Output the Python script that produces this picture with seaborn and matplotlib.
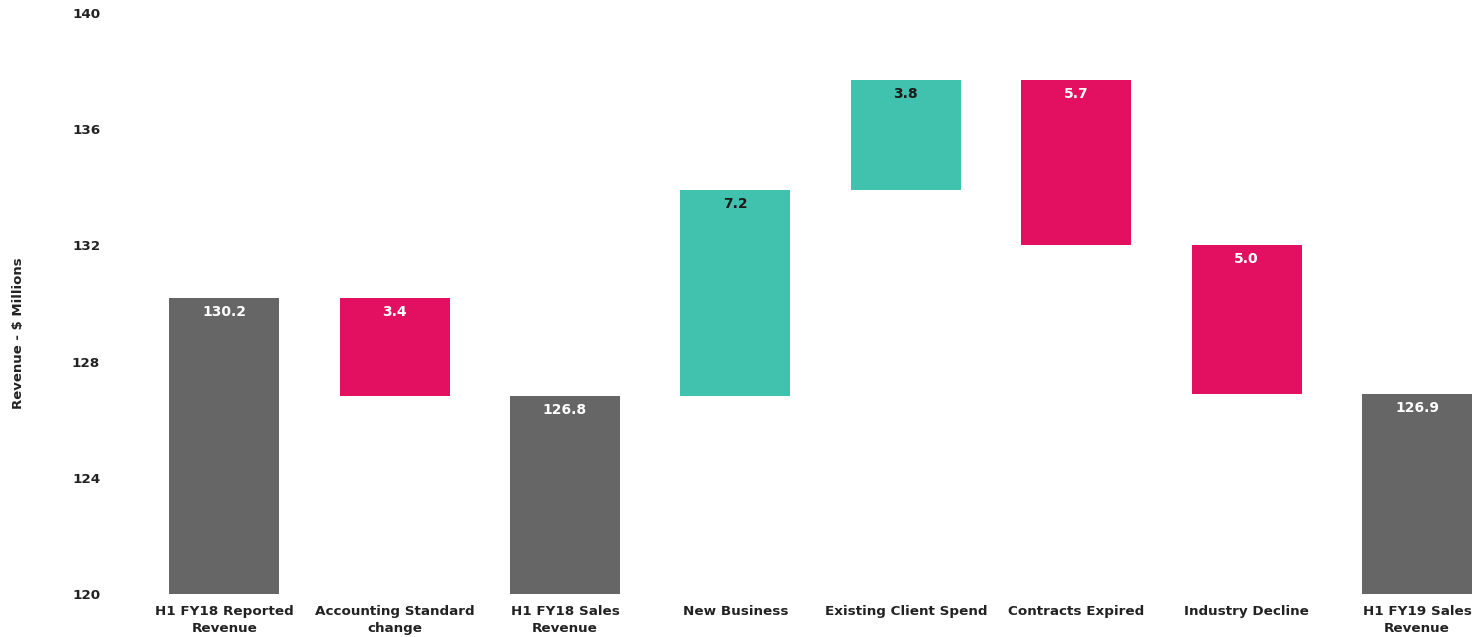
import matplotlib
matplotlib.use("Agg")
import matplotlib.pyplot as plt
import seaborn as sns
import pandas as pd
import numpy as np

# ---- data ----
categories = ["H1 FY18 Reported\nRevenue", "Accounting Standard\nchange", "H1 FY18 Sales\nRevenue",
              "New Business", "Existing Client Spend", "Contracts Expired", "Industry Decline",
              "H1 FY19 Sales\nRevenue"]
value_labels = ["130.2", "3.4", "126.8", "7.2", "3.8", "5.7", "5.0", "126.9"]
bar_low = [0.0, 126.8, 0.0, 126.8, 133.9, 132.0, 126.9, 0.0]
bar_high = [130.2, 130.2, 126.8, 133.9, 137.7, 137.7, 132.0, 126.9]
kinds = ["total", "decrease", "total", "increase", "increase", "decrease", "decrease", "total"]
y_ticks = [120, 124, 128, 132, 136, 140]

colors = {"total": "#666666", "decrease": "#E31062", "increase": "#41C2AE"}
text_colors = {"total": "white", "decrease": "white", "increase": "#1a1a1a"}

df = pd.DataFrame({"cat": categories,
                   "height": np.array(bar_high) - np.array(bar_low),
                   "low": bar_low})

sns.set_theme(style="white")
plt.rcParams["font.family"] = ["DejaVu Sans"]

fig = plt.figure(figsize=(14.72, 6.37), dpi=100)
ax = fig.add_axes([139 / 1472, 43 / 637, (1472 - 139) / 1472, 581 / 637])

sns.barplot(data=df, x="cat", y="height", bottom=df["low"].values, color="#666666",
            width=0.646, errorbar=None, saturation=1, ax=ax)

for p, k in zip(ax.patches, kinds):
    p.set_facecolor(colors[k])
    p.set_edgecolor("none")

ax.set_ylim(120, 140)
ax.set_xlim(-0.5, 7 + 0.323)
ax.set_yticks(y_ticks)
ax.set_yticklabels([str(t) for t in y_ticks], fontsize=9.7, fontweight="bold", color="#222222")
ax.tick_params(axis="y", length=0, pad=28)
ax.tick_params(axis="x", length=0, pad=8)
for lbl in ax.get_xticklabels():
    lbl.set_fontsize(9.7)
    lbl.set_fontweight("bold")
    lbl.set_color("#222222")
    lbl.set_linespacing(1.35)
ax.set_xlabel("")
ax.set_ylabel("Revenue - $ Millions", fontsize=9.5, fontweight="bold", color="#222222")
ax.yaxis.set_label_coords((25 - 139) / 1333, (594 - 333) / 581)
for s in ax.spines.values():
    s.set_visible(False)
ax.grid(False)

for i, (lab, top, k) in enumerate(zip(value_labels, bar_high, kinds)):
    ax.annotate(lab, xy=(i, top), xytext=(0, -14), textcoords="offset pixels",
                ha="center", va="center", fontsize=10, fontweight="bold", color=text_colors[k])

fig.savefig("out.png", dpi=100)
